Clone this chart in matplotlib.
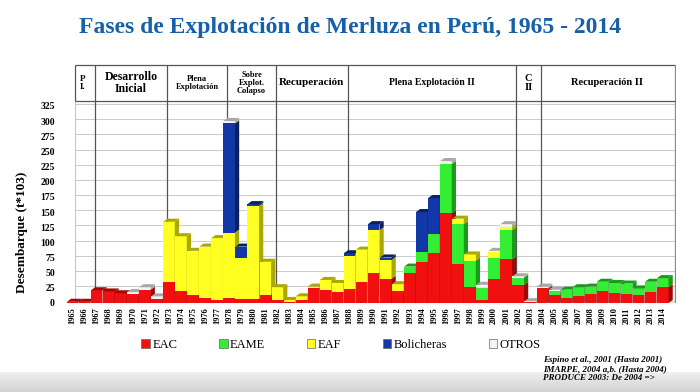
import numpy as np
import matplotlib.pyplot as plt
from matplotlib.patches import Polygon, Patch

years = list(range(1965, 2015))

eac = [2, 2, 21, 19, 16, 15, 22, 7, 35, 19,
       14, 9, 5, 8, 7, 7, 14, 5, 1, 5,
       25, 21, 18, 23, 34, 50, 40, 19, 49, 67,
       82, 148, 65, 26, 5, 39, 72, 30, 1, 24,
       14, 8, 12, 15, 19, 16, 15, 14, 18, 26]
eame = [0] * 28 + [11, 17, 31, 81, 65, 44, 19, 36, 48, 12, 0, 0,
                   5, 14, 14, 12, 16, 17, 17, 10, 17, 15]
eaf = [0] * 8 + [99, 91, 72, 84, 102, 108, 68, 153, 54, 21, 4, 6,
                 2, 17, 15, 55, 54, 70, 31, 12, 0, 0,
                 0, 0, 9, 10, 3, 9, 6, 0, 0, 0,
                 0, 0, 0, 0, 0, 0, 0, 0, 0, 0]
bolicheras = [0] * 13 + [180, 18, 3] + [0] * 7 + [4, 0, 10, 4, 0, 0, 66, 60] + [0] * 19
otros = [0, 0, 0, 0, 0, 3, 4, 4, 0, 0,
         0, 0, 0, 4, 0, 0, 0, 0, 0, 0,
         0, 0, 0, 0, 0, 0, 0, 0, 0, 0,
         0, 5, 0, 0, 3, 2, 4, 2, 2, 3,
         3, 0, 0, 0, 0, 0, 0, 0, 0, 0]

series = [("EAC", eac, "#f01010", "#a00808"),
          ("EAME", eame, "#33ee33", "#1a9a1a"),
          ("EAF", eaf, "#ffff22", "#a8a800"),
          ("Bolicheras", bolicheras, "#1238a8", "#0a2060"),
          ("OTROS", otros, "#f4f4f4", "#a8a8a8")]

phases = [("P\nI.", 1964.5, 1966.5, 6.5),
          ("Desarrollo\nInicial", 1966.5, 1972.5, 8.5),
          ("Plena\nExplotación", 1972.5, 1977.5, 6),
          ("Sobre\nExplot.\nColapso", 1977.5, 1981.5, 6),
          ("Recuperación", 1981.5, 1987.5, 8),
          ("Plena Explotación II", 1987.5, 2001.5, 7),
          ("C\nII", 2001.5, 2003.5, 7.5),
          ("Recuperación II", 2003.5, 2014.6, 7.5)]

serif = "Liberation Serif"
w, dx, dy = 0.96, 0.35, 5.0
wall_left, wall_right = 1965.2, 2015.0
head_lo, head_hi = 332.7, 393.0

fig = plt.figure(figsize=(7, 3.92), dpi=100)
fig.patch.set_facecolor("white")

# grey shade at the bottom of the slide
bg = fig.add_axes([0, 0, 1, 20 / 392], zorder=-5)
bg.imshow(np.linspace(0.94, 0.82, 50).reshape(-1, 1), cmap="gray", vmin=0, vmax=1,
          aspect="auto", extent=[0, 1, 0, 1])
bg.axis("off")

ax = fig.add_axes([66 / 700, 1 - 303 / 392, 610 / 700, 239 / 392])
ax.set_xlim(1964.45, 2015.1)
ax.set_ylim(0, head_hi + 1)

yt = np.arange(0, 326, 25)
ax.hlines(yt + dy * 0.6, wall_left, wall_right, color="#cccccc", lw=0.8, zorder=1)

bottoms = np.zeros(len(years))
for name, vals, face, side in series:
    vals = np.array(vals, dtype=float)
    bars = ax.bar(years, vals, bottom=bottoms, width=w, color=face, lw=0)
    for i, p in enumerate(bars.patches):
        p.set_zorder(3 + i * 0.01)
        if vals[i] <= 0:
            continue
        b, t = bottoms[i], bottoms[i] + vals[i]
        r = years[i] + w / 2
        ax.add_patch(Polygon([(r, b), (r + dx, b + dy), (r + dx, t + dy), (r, t)],
                             closed=True, color=side, lw=0, zorder=3 + i * 0.01 + 0.002))
    bottoms = bottoms + vals

# top faces of each column
for i, y in enumerate(years):
    top_side = None
    for name, vals, face, side in series:
        if vals[i] > 0:
            top_side = side
    if top_side is None:
        continue
    t = bottoms[i]
    l, r = y - w / 2, y + w / 2
    ax.add_patch(Polygon([(l, t), (l + dx, t + dy), (r + dx, t + dy), (r, t)],
                         closed=True, color=top_side, lw=0, zorder=3 + i * 0.01 + 0.003))

# phase dividers and header row
for label, a, b, fs in phases:
    ax.text((a + b) / 2 + dx, (head_lo + head_hi) / 2, label, ha="center", va="center",
            fontsize=fs, fontweight="bold", family=serif, linespacing=1.0)
for a in [p[1] for p in phases[1:]]:
    ax.vlines(a + dx, 0, head_hi, color="#555555", lw=0.9, zorder=2)
ax.vlines(wall_left, head_lo, head_hi, color="#555555", lw=0.9, zorder=2)
ax.vlines(wall_left, dy, head_lo, color="#cccccc", lw=0.9, zorder=1)
ax.vlines(wall_right, 0, head_hi, color="#888888", lw=0.9, zorder=2)
ax.hlines([head_lo, head_hi], wall_left, wall_right, color="#555555", lw=0.9, zorder=2)
ax.hlines(0, 1964.5, wall_right, color="#bbbbbb", lw=0.8, zorder=1)

ax.set_yticks(yt)
ax.set_yticklabels([str(v) for v in yt], fontsize=7, fontweight="bold", family=serif)
ax.set_xticks(years)
ax.set_xticklabels([str(y) for y in years], rotation=90, fontsize=6,
                   fontweight="bold", family=serif)
ax.tick_params(length=0, pad=3)
ax.tick_params(axis="y", pad=8)
for s in ax.spines.values():
    s.set_visible(False)

fig.text(0.5, 1 - 28 / 392, "Fases de Explotación de Merluza en Perú, 1965 - 2014",
         ha="center", va="center", fontsize=17, fontweight="bold", family=serif,
         color="#1560a8")
fig.text(22 / 700, 1 - 232 / 392, "Desembarque (t*103)", rotation=90, ha="center",
         va="center", fontsize=9.5, fontweight="bold", family=serif)

handles = [Patch(facecolor=f, edgecolor="#666666", lw=0.5) for _, _, f, _ in series]
fig.legend(handles, [s[0] for s in series], loc="center", bbox_to_anchor=(341 / 700, 1 - 345 / 392),
           ncol=5, frameon=False, handlelength=0.7, handleheight=0.7, handletextpad=0.2,
           columnspacing=3.3, prop={"family": serif, "size": 9})

fig.text(543 / 700, 1 - 369 / 392,
         "Espino et al., 2001 (Hasta 2001)\nIMARPE, 2004 a,b. (Hasta 2004)\nPRODUCE 2003: De 2004 =>",
         ha="left", va="center", fontsize=6.5, fontweight="bold", style="italic",
         family=serif, linespacing=1.25)

fig.savefig("out.png", dpi=100)
